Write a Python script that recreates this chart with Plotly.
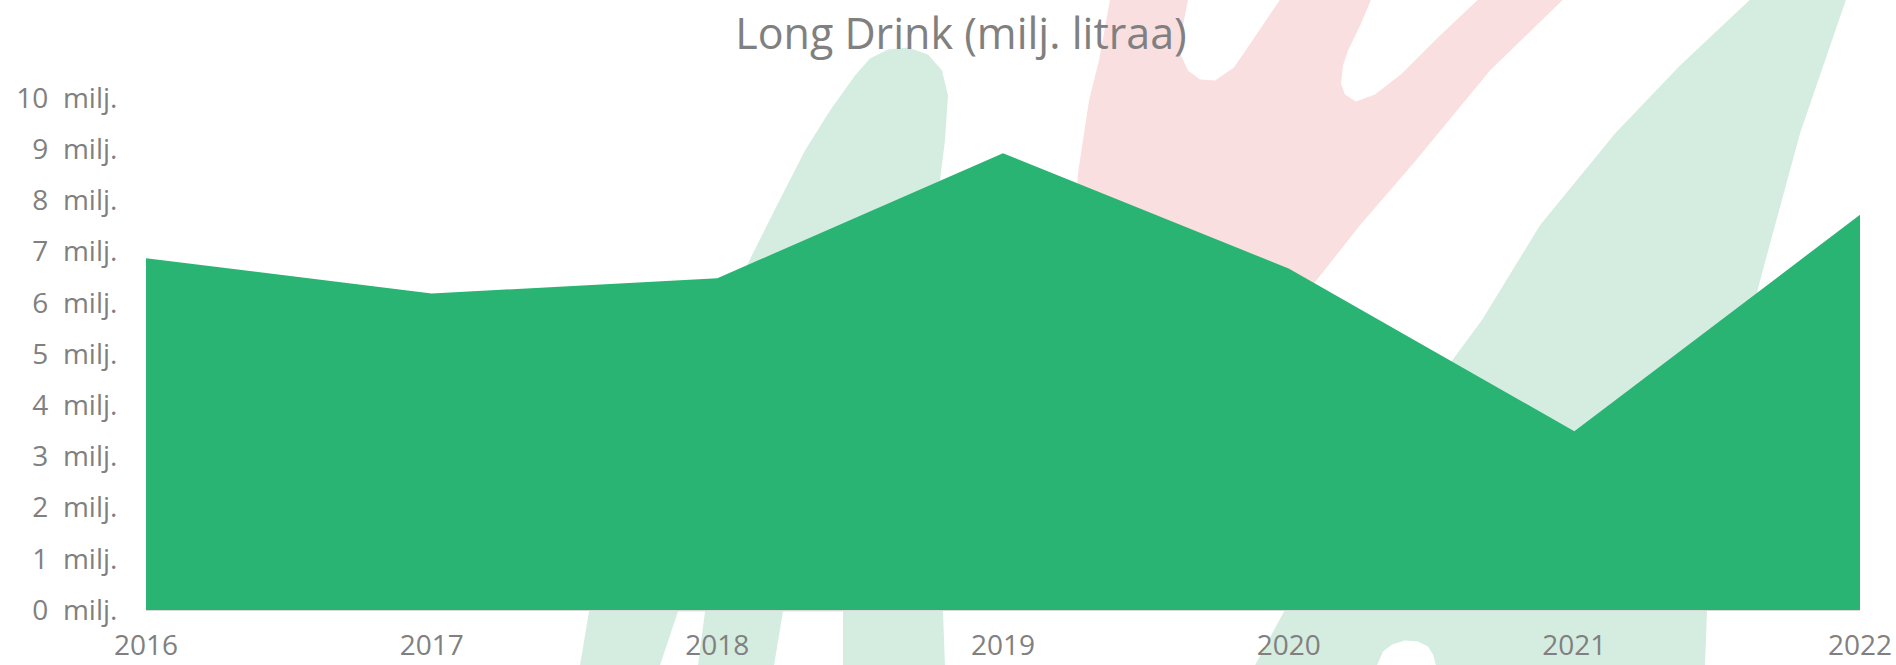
import plotly.graph_objects as go

# ---- data ----
years = [2016, 2017, 2018, 2019, 2020, 2021, 2022]
volume_milj = [6.87, 6.18, 6.48, 8.92, 6.67, 3.49, 7.72]
tick_values = [0, 1, 2, 3, 4, 5, 6, 7, 8, 9, 10]
tick_labels = [f"{v}\u00a0 milj." for v in tick_values]
title_text = "Long Drink (milj. litraa)"

# ---- layout geometry (pixels) ----
W, H = 1896, 665
PL, PR, PT, PB = 146, 1860, 97.5, 610.5

def px(X):
    return (X - PL) / (PR - PL)

def py(Y):
    return (PB - Y) / (PB - PT)

def path(points):
    s = "M " + " L ".join(f"{px(x):.5f},{py(y):.5f}" for x, y in points) + " Z"
    return s

LG = "rgb(213,237,224)"
PK = "rgb(249,223,224)"

green_finger = [(580, 666), (589, 612), (640, 490), (700, 370), (746, 267), (776, 207),
                (805, 150), (830, 110), (855, 75), (870, 58), (888, 49), (908, 47),
                (928, 54), (942, 70), (948, 95), (945, 140), (940, 180), (941, 400),
                (943, 612), (945, 666)]
gap_a = [(678, 612), (705, 612), (698, 666), (660, 666)]
gap_b = [(783, 612), (843, 612), (843, 666), (774, 666)]

pink_hand = [(1110, -1), (1099, 60), (1089, 100), (1078, 173), (1070, 300), (1060, 450),
             (1280, 450), (1315, 282), (1360, 225), (1415, 161), (1490, 70), (1563, -1),
             (1478, -1), (1440, 35), (1402, 73), (1375, 94), (1356, 101), (1345, 94),
             (1341, 83), (1343, 65), (1348, 50), (1360, 25), (1371, -1),
             (1280, -1), (1257, 33), (1234, 67), (1215, 80), (1200, 79), (1188, 70),
             (1181, 55), (1182, 30), (1188, -1)]

green_band = [(1750, -1), (1680, 65), (1615, 133), (1540, 225), (1482, 320), (1451, 362),
              (1400, 450), (1330, 550), (1284, 612), (1255, 666),
              (1705, 666), (1707, 612), (1730, 450), (1758, 288), (1800, 133), (1846, -1)]
band_hole = [(1377, 666), (1383, 652), (1392, 645), (1405, 641), (1418, 642),
             (1428, 647), (1433, 655), (1436, 666)]

shapes = []
for pts, col in [(green_finger, LG), (gap_a, "white"), (gap_b, "white"),
                 (pink_hand, PK), (green_band, LG), (band_hole, "white")]:
    shapes.append(dict(type="path", path=path(pts), xref="paper", yref="paper",
                       fillcolor=col, line=dict(width=0), layer="below"))

fig = go.Figure()
fig.add_trace(go.Scatter(
    x=years, y=volume_milj, mode="none", fill="tozeroy",
    fillcolor="#29B473", hoverinfo="x+y", showlegend=False,
))

GRAY = "#808080"
FONT = "Open Sans"

fig.update_layout(
    width=W, height=H,
    margin=dict(l=PL, r=W - PR, t=PT, b=H - PB, pad=0, autoexpand=False),
    paper_bgcolor="white",
    plot_bgcolor="rgba(0,0,0,0)",
    shapes=shapes,
    title=dict(text=title_text, x=961 / W, xanchor="center", xref="container",
               y=1 - 34 / H, yanchor="middle", yref="container", automargin=False,
               font=dict(family=FONT, size=43, color=GRAY)),
    xaxis=dict(range=[2016, 2022], tickmode="array", tickvals=years, automargin=False,
               ticktext=[str(y) for y in years], showgrid=False, zeroline=False,
               showline=True, linecolor="#d9d9d9", linewidth=1,
               ticks="outside", ticklen=10, tickcolor="rgba(0,0,0,0)",
               tickfont=dict(family=FONT, size=28, color=GRAY)),
    yaxis=dict(range=[0, 10], tickmode="array", tickvals=tick_values, automargin=False,
               ticktext=tick_labels, showgrid=False, zeroline=False, showline=False,
               ticks="outside", ticklen=22, tickcolor="rgba(0,0,0,0)",
               tickfont=dict(family=FONT, size=28, color=GRAY)),
)

fig.write_html("out.html", config={"displayModeBar": False},
               post_script="document.body.style.margin='0';document.body.style.overflow='hidden';")
